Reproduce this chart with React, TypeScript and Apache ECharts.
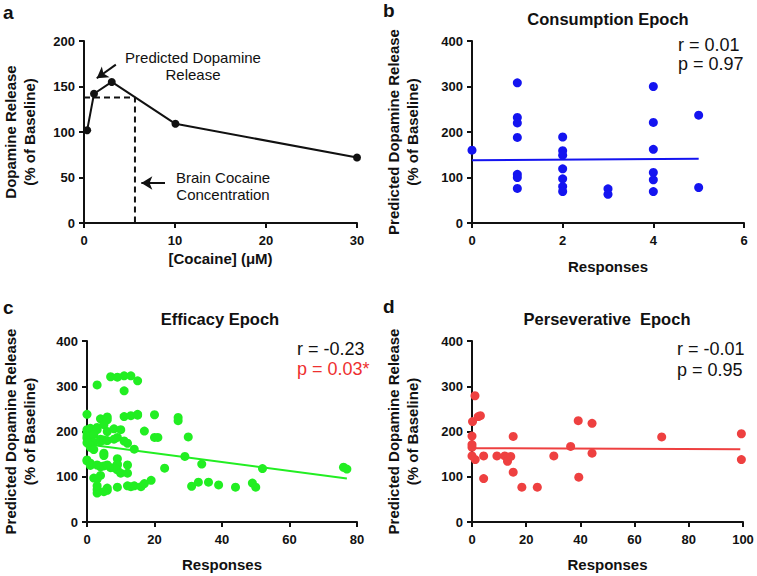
import React, { useEffect, useRef } from "react";
import * as echarts from "echarts";

// Panel a: dose-response
const cocaineDose = [0.35, 1.1, 3.05, 10.05, 30];
const dopamineRelease = [102, 142, 155, 109, 72];
const guideLine = [[0, 138], [5.6, 138], [5.6, 0]];
const arrowPredicted = [[3.5, 174], [1.4, 159]];
const arrowBrain = [[8.9, 44], [6.3, 44]];

// Panel b: consumption epoch (responses, predicted DA release)
const consumptionPoints = [
  [0, 160],
  [1, 308], [1, 232], [1, 220], [1, 188], [1, 107], [1, 100], [1, 76],
  [2, 189], [2, 159], [2, 149], [2, 119], [2, 97], [2, 80], [2, 69],
  [3, 75], [3, 63],
  [4, 300], [4, 221], [4, 162], [4, 111], [4, 95], [4, 69],
  [5, 237], [5, 78],
];
const consumptionFit = [[0, 138], [5, 141]];

// Panel c: efficacy epoch
const efficacyPoints = [
  [7, 321], [9, 320], [11, 323], [13, 323], [15, 312], [3, 303], [11, 290],
  [0, 238], [4, 228], [6, 232], [6, 226], [11, 233], [13, 235], [15, 238], [15, 236], [20, 237], [27, 231], [27, 224],
  [0, 204], [0, 198], [1, 207], [2, 196], [3, 209], [3, 204], [5, 215], [6, 200], [8, 206], [9, 187], [10, 204], [17, 201], [20, 187], [21, 187], [30, 188],
  [0, 185], [0, 190], [1, 180], [2, 193], [2, 176], [4, 183], [4, 178], [5, 181], [6, 180], [8, 183], [11, 179], [12, 174], [1, 170], [1, 165], [2, 160], [0, 175],
  [5, 152], [5, 147], [14, 161], [29, 145],
  [0, 137], [0, 135], [1, 130], [1, 125], [3, 126], [4, 122], [5, 124], [6, 126], [7, 120], [9, 140], [9, 128], [9, 126], [12, 126], [8, 120], [34, 128], [23, 119], [52, 118], [76, 121], [77, 117],
  [9, 115], [10, 108], [12, 108], [4, 103], [2, 97], [3, 95],
  [3, 64], [3, 72], [3, 80], [6, 70], [6, 75], [5, 67], [9, 77], [12, 80], [13, 78], [14, 80], [16, 78], [17, 85], [19, 92],
  [31, 79], [33, 88], [36, 88], [39, 82], [44, 77], [49, 86], [50, 77],
];
const efficacyFit = [[0, 172], [77, 96]];

// Panel d: perseverative epoch
const perseverativePoints = [
  [1.1, 279], [0.2, 222], [2.3, 233], [3.1, 235], [0, 190], [0, 171], [0, 165], [0, 146],
  [1.2, 138], [4.3, 146], [4.3, 96], [9.2, 146], [12.1, 146], [13.1, 134], [14.3, 145],
  [15.2, 110], [15.2, 189], [18.4, 77], [24.1, 77], [30.2, 146], [36.4, 167], [39.2, 224],
  [39.4, 99], [44.3, 218], [44.3, 152], [70, 188], [99.4, 195], [99.4, 138],
];
const perseverativeFit = [[0, 163], [99, 161]];

const FONT = "'Liberation Sans', Arial, sans-serif";
const BLUE = "#1414f0";
const GREEN = "#22ee22";
const RED = "#ee4040";

function xAxis(grid: number, max: number, interval: number, name: string, gap: number) {
  return {
    type: "value",
    gridIndex: grid,
    min: 0,
    max,
    interval,
    name,
    nameLocation: "middle",
    nameGap: gap,
    nameTextStyle: { fontFamily: FONT, fontSize: 15, fontWeight: "bold", color: "#111" },
    axisLine: { show: true, onZero: false, lineStyle: { color: "#111", width: 2 } },
    axisTick: { show: true, length: 5, lineStyle: { color: "#111", width: 2 } },
    axisLabel: { margin: 11, fontFamily: FONT, fontSize: 13, fontWeight: "bold", color: "#111" },
    splitLine: { show: false },
  };
}

function yAxis(grid: number, max: number, interval: number, name: string, gap: number) {
  return {
    type: "value",
    gridIndex: grid,
    min: 0,
    max,
    interval,
    name,
    nameLocation: "middle",
    nameRotate: 90,
    nameGap: gap,
    nameTextStyle: { fontFamily: FONT, fontSize: 15, fontWeight: "bold", color: "#111", lineHeight: 19 },
    axisLine: { show: true, onZero: false, lineStyle: { color: "#111", width: 2 } },
    axisTick: { show: true, length: 5, lineStyle: { color: "#111", width: 2 } },
    axisLabel: { margin: 9, fontFamily: FONT, fontSize: 13, fontWeight: "bold", color: "#111" },
    splitLine: { show: false },
  };
}

function scatter(idx: number, data: number[][], color: string) {
  return {
    type: "scatter",
    xAxisIndex: idx,
    yAxisIndex: idx,
    data,
    symbolSize: 9,
    itemStyle: { color, opacity: 1 },
    z: 3,
  };
}

function fit(idx: number, data: number[][], color: string) {
  return {
    type: "line",
    xAxisIndex: idx,
    yAxisIndex: idx,
    data,
    showSymbol: false,
    symbol: "none",
    lineStyle: { color, width: 2 },
    z: 2,
  };
}

function txt(text: string, x: number, y: number, font: string, fill = "#111", align = "left") {
  return {
    type: "text",
    x,
    y,
    style: { text, font, fill, textAlign: align, textVerticalAlign: "middle" },
  };
}

export default function App() {
  const ref = useRef<HTMLDivElement>(null);
  useEffect(() => {
    document.body.style.margin = "0";
    const chart = echarts.init(ref.current!, null, { renderer: "svg" });
    const letter = `bold 19px ${FONT}`;
    const title = `bold 16.5px ${FONT}`;
    const stat = `18px ${FONT}`;
    const note = `15px ${FONT}`;
    chart.setOption({
      animation: false,
      backgroundColor: "#fff",
      grid: [
        { left: 84, top: 41, width: 273, height: 182 },
        { left: 472, top: 41, width: 272, height: 182 },
        { left: 83, top: 341, width: 274, height: 181 },
        { left: 472, top: 341, width: 271, height: 181 },
      ],
      xAxis: [
        xAxis(0, 30, 10, "[Cocaine] (\u03bcM)", 28),
        xAxis(1, 6, 2, "Responses", 36),
        xAxis(2, 80, 20, "Responses", 35),
        xAxis(3, 100, 20, "Responses", 35),
      ],
      yAxis: [
        yAxis(0, 200, 50, "Dopamine Release\n(% of Baseline)", 45),
        yAxis(1, 400, 100, "Predicted Dopamine Release\n(% of Baseline)", 50),
        yAxis(2, 400, 100, "Predicted Dopamine Release\n(% of Baseline)", 48),
        yAxis(3, 400, 100, "Predicted Dopamine Release\n(% of Baseline)", 50),
      ],
      series: [
        {
          type: "line",
          xAxisIndex: 0,
          yAxisIndex: 0,
          data: guideLine,
          showSymbol: false,
          symbol: "none",
          lineStyle: { color: "#111", width: 2, type: [6, 4] },
          z: 1,
          markLine: {
            silent: true,
            symbol: ["none", "arrow"],
            symbolSize: [10, 11],
            label: { show: false },
            lineStyle: { color: "#111", width: 2, type: "solid" },
            data: [
              [{ coord: arrowPredicted[0] }, { coord: arrowPredicted[1] }],
              [{ coord: arrowBrain[0] }, { coord: arrowBrain[1] }],
            ],
          },
        },
        {
          type: "line",
          xAxisIndex: 0,
          yAxisIndex: 0,
          data: cocaineDose.map((d, i) => [d, dopamineRelease[i]]),
          symbol: "circle",
          symbolSize: 8,
          itemStyle: { color: "#111" },
          lineStyle: { color: "#111", width: 2 },
          z: 3,
        },
        fit(1, consumptionFit, BLUE),
        scatter(1, consumptionPoints, BLUE),
        fit(2, efficacyFit, GREEN),
        scatter(2, efficacyPoints, GREEN),
        fit(3, perseverativeFit, RED),
        scatter(3, perseverativePoints, RED),
      ],
      graphic: [
        txt("a", 3, 12, letter),
        txt("b", 383, 10, letter),
        txt("c", 3, 307, letter),
        txt("d", 383, 306, letter),
        txt("Consumption Epoch", 608, 19, title, "#111", "center"),
        txt("Efficacy Epoch", 220, 319, title, "#111", "center"),
        txt("Perseverative  Epoch", 607, 319, title, "#111", "center"),
        txt("r = 0.01", 678, 45, stat),
        txt("p = 0.97", 678, 64, stat),
        txt("r = -0.23", 297, 349, stat),
        txt("p = 0.03*", 297, 369, stat, "#ee3030"),
        txt("r = -0.01", 677, 349, stat),
        txt("p = 0.95", 677, 370, stat),
        txt("Predicted Dopamine", 193, 57, note, "#111", "center"),
        txt("Release", 193, 74, note, "#111", "center"),
        txt("Brain Cocaine", 223, 177, note, "#111", "center"),
        txt("Concentration", 223, 194, note, "#111", "center"),
      ],
    });
    return () => chart.dispose();
  }, []);
  return <div ref={ref} style={{ width: 757, height: 576 }} />;
}
